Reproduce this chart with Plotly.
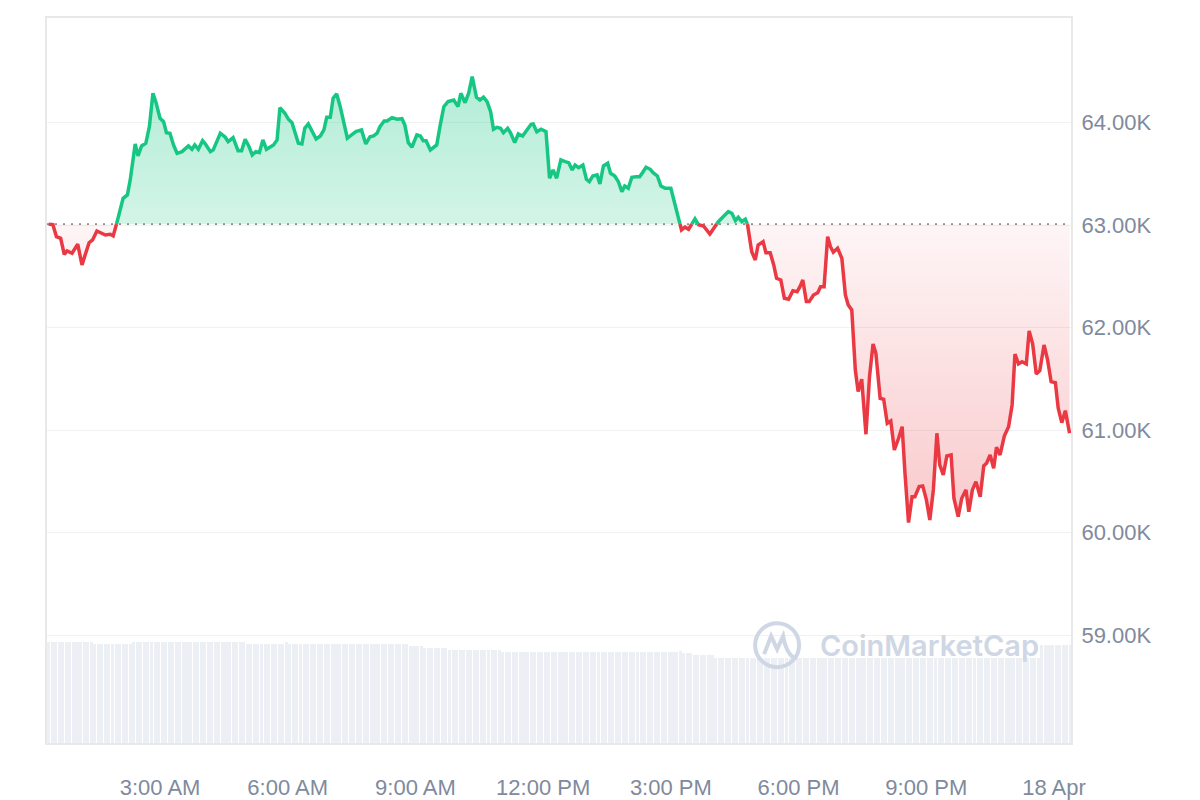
import numpy as np
import pandas as pd
import plotly.graph_objects as go

GREEN = '#16c784'
RED = '#ea3943'
TEXT = '#808a9d'
GRID = '#f0f1f3'
BORDER = '#e6e8ea'
VOL_COLOR = '#eceff3'
MARK = '#cfd6e4'
FONT = 'Liberation Sans, Arial, sans-serif'

DAY = pd.Timestamp('2024-04-17')
BASE = 63010  # opening price, the dotted reference line

# minutes after midnight on 17 Apr
minutes = [
    23, 29, 34, 40, 45, 49, 56, 64, 70, 80, 85, 91, 103, 110, 114, 119, 128, 134, 138, 145,
    149, 154, 160, 165, 170, 174, 180, 185, 189, 194, 199, 204, 211, 220, 225, 229, 234, 240, 244, 251,
    255, 265, 272, 276, 283, 290, 295, 300, 305, 310, 315, 320, 325, 330, 340, 345, 349, 356, 361, 366,
    370, 375, 380, 384, 389, 394, 400, 406, 411, 415, 420, 424, 429, 434, 438, 444, 450, 456, 464, 470,
    476, 481, 486, 490, 496, 500, 507, 514, 521, 525, 530, 535, 542, 547, 551, 555, 561, 570, 575, 580,
    586, 594, 600, 604, 610, 615, 620, 626, 631, 636, 641, 646, 650, 655, 660, 664, 670, 674, 680, 685,
    691, 697, 703, 706, 711, 717, 724, 729, 734, 739, 745, 751, 756, 761, 765, 770, 776, 781, 785, 790,
    796, 800, 805, 811, 815, 821, 826, 831, 835, 840, 845, 851, 856, 860, 865, 871, 875, 881, 886, 892,
    900, 915, 920, 925, 934, 939, 946, 955, 962, 967, 973, 981, 986, 991, 995, 1000, 1005, 1008, 1014, 1019,
    1023, 1030, 1034, 1040, 1045, 1049, 1055, 1060, 1066, 1072, 1078, 1082, 1086, 1091, 1095, 1101, 1107, 1111, 1116, 1121,
    1125, 1129, 1135, 1141, 1146, 1150, 1155, 1160, 1164, 1169, 1175, 1180, 1185, 1189, 1195, 1200, 1205, 1210, 1215, 1221,
    1226, 1230, 1235, 1240, 1244, 1250, 1255, 1260, 1265, 1270, 1275, 1279, 1284, 1289, 1295, 1299, 1305, 1310, 1316, 1320,
    1325, 1330, 1336, 1341, 1345, 1350, 1355, 1359, 1364, 1370, 1376, 1381, 1385, 1390, 1395, 1401, 1405, 1410, 1415, 1420,
    1426, 1431, 1436, 1442, 1446, 1451, 1456, 1462,
]

prices = [
    63010, 63005, 62888, 62872, 62716, 62748, 62726, 62814, 62612, 62829, 62856, 62943, 62904, 62911, 62895, 63019, 63262, 63295, 63441, 63792,
    63675, 63773, 63799, 63961, 64287, 64205, 64043, 64010, 63902, 63897, 63782, 63701, 63717, 63773, 63740, 63782, 63740, 63824, 63792, 63717,
    63734, 63897, 63858, 63815, 63854, 63727, 63727, 63838, 63773, 63685, 63717, 63707, 63831, 63740, 63782, 63831, 64146, 64092, 64033, 64000,
    63902, 63799, 63792, 63945, 63987, 63922, 63841, 63870, 63929, 64053, 64053, 64238, 64280, 64156, 64026, 63848, 63880, 63912, 63929, 63792,
    63863, 63870, 63897, 63961, 64017, 64017, 64049, 64033, 64039, 63978, 63805, 63760, 63880, 63870, 63824, 63824, 63734, 63782, 63978, 64156,
    64205, 64221, 64156, 64287, 64195, 64287, 64449, 64248, 64221, 64248, 64205, 64107, 63936, 63955, 63945, 63902, 63945, 63902, 63805, 63890,
    63870, 63929, 63984, 63987, 63912, 63936, 63912, 63458, 63539, 63458, 63636, 63620, 63610, 63539, 63587, 63561, 63587, 63448, 63424, 63480,
    63490, 63402, 63578, 63604, 63506, 63480, 63424, 63327, 63382, 63360, 63467, 63473, 63473, 63512, 63565, 63545, 63512, 63480, 63382, 63360,
    63360, 62953, 62980, 62960, 63061, 63005, 62992, 62914, 62985, 63034, 63077, 63132, 63116, 63044, 63077, 63034, 63058, 63010, 62741, 62660,
    62807, 62839, 62732, 62732, 62612, 62482, 62465, 62287, 62277, 62361, 62351, 62400, 62465, 62254, 62254, 62319, 62341, 62400, 62400, 62888,
    62790, 62736, 62775, 62677, 62319, 62221, 62173, 61587, 61376, 61497, 60960, 61522, 61841, 61750, 61311, 61301, 61067, 61090, 60807, 60921,
    61034, 60580, 60098, 60351, 60351, 60449, 60456, 60326, 60124, 60417, 60970, 60661, 60563, 60748, 60758, 60336, 60156, 60336, 60417, 60205,
    60417, 60498, 60351, 60651, 60677, 60758, 60628, 60833, 60758, 60943, 61034, 61246, 61743, 61646, 61668, 61646, 61968, 61841, 61548, 61580,
    61831, 61685, 61473, 61463, 61214, 61073, 61190, 60970,
]

# rolling 24h volume (billion $), one bar every 5 minutes from 00:23
VOL_START = '2024-04-17 00:23:00'
volume_b = [
    30.3, 30.3, 30.3, 30.3, 30.3, 30.3, 30.3, 30.3, 30.3, 30.3, 30.3, 30.3,
    30.3, 29.7, 29.7, 29.7, 29.7, 29.7, 29.7, 29.7, 29.7, 29.7, 29.7, 29.7,
    30.3, 30.3, 30.3, 30.3, 30.3, 30.3, 30.3, 30.3, 30.3, 30.3, 30.3, 30.3,
    30.3, 30.3, 30.3, 30.3, 30.3, 30.3, 30.3, 30.3, 30.3, 30.3, 30.3, 30.3,
    30.3, 30.3, 30.3, 30.3, 30.3, 30.3, 30.3, 30.3, 29.7, 29.7, 29.7, 29.7,
    29.7, 29.7, 29.7, 29.7, 29.7, 29.7, 29.7, 30.3, 29.7, 29.7, 29.7, 29.7,
    29.7, 29.7, 29.7, 29.7, 29.7, 29.7, 29.7, 29.7, 29.7, 29.7, 29.7, 29.7,
    29.7, 29.7, 29.7, 29.7, 29.7, 29.7, 29.7, 29.7, 29.7, 29.7, 29.7, 29.7,
    29.7, 29.7, 29.7, 29.7, 29.7, 29.7, 29.1, 29.1, 29.1, 29.1, 28.5, 28.5,
    28.5, 28.5, 28.5, 28.5, 28.5, 27.9, 27.9, 27.9, 27.9, 27.9, 27.9, 27.9,
    27.9, 27.9, 27.9, 27.9, 27.9, 27.9, 27.9, 27.9, 27.3, 27.3, 27.3, 27.3,
    27.3, 27.3, 27.3, 27.3, 27.3, 27.3, 27.3, 27.3, 27.3, 27.3, 27.3, 27.3,
    27.3, 27.3, 27.3, 27.3, 27.3, 27.3, 27.3, 27.3, 27.3, 27.3, 27.3, 27.3,
    27.3, 27.3, 27.3, 27.3, 27.3, 27.3, 27.3, 27.3, 27.3, 27.3, 27.3, 27.3,
    27.3, 27.3, 27.3, 27.3, 27.3, 27.3, 27.3, 27.3, 27.3, 27.3, 27.6, 27.0,
    27.0, 27.0, 26.4, 26.4, 26.4, 26.4, 26.4, 26.4, 25.5, 25.5, 25.5, 25.5,
    25.5, 25.5, 25.5, 25.5, 25.5, 25.5, 25.5, 25.5, 25.5, 25.5, 25.5, 25.5,
    25.5, 25.5, 25.5, 25.5, 25.5, 25.5, 25.5, 25.5, 25.5, 25.5, 25.5, 25.5,
    25.5, 25.5, 25.5, 25.5, 25.5, 25.5, 25.5, 25.5, 25.5, 25.5, 25.5, 25.5,
    25.5, 25.5, 25.5, 25.5, 25.5, 25.5, 25.5, 25.5, 25.5, 25.5, 25.5, 25.5,
    25.5, 25.5, 25.5, 25.5, 25.5, 25.5, 25.5, 25.5, 25.5, 25.5, 25.5, 25.5,
    25.5, 25.5, 25.5, 25.5, 25.5, 25.5, 25.5, 25.5, 25.5, 25.5, 25.5, 25.5,
    25.5, 25.5, 25.5, 25.5, 25.5, 25.5, 25.5, 25.5, 25.5, 25.5, 25.5, 25.5,
    25.5, 25.5, 25.5, 25.5, 29.4, 29.4, 29.4, 29.4, 29.4, 29.4, 29.4, 29.4,
    29.4,
]

x_tick_vals = ['2024-04-17 03:00', '2024-04-17 06:00', '2024-04-17 09:00', '2024-04-17 12:00',
               '2024-04-17 15:00', '2024-04-17 18:00', '2024-04-17 21:00', '2024-04-18 00:00']
x_tick_text = ['3:00 AM', '6:00 AM', '9:00 AM', '12:00 PM', '3:00 PM', '6:00 PM', '9:00 PM', '18 Apr']
y_ticks = [59000, 60000, 61000, 62000, 63000, 64000]

X_RANGE = ['2024-04-17 00:20:42', '2024-04-18 00:24:00']

# add a point wherever the price crosses the baseline so colours switch cleanly
t = np.array(minutes, float)
p = np.array(prices, float)
ts, ps = [t[0]], [p[0]]
for i in range(1, len(p)):
    a, b = p[i - 1] - BASE, p[i] - BASE
    if a * b < 0:
        f = a / (a - b)
        ts.append(t[i - 1] + f * (t[i] - t[i - 1]))
        ps.append(BASE)
    ts.append(t[i])
    ps.append(p[i])
ps = np.array(ps)
x = DAY + pd.to_timedelta(np.array(ts), unit='min')
base_line = np.full(len(ps), BASE)

up_fill = np.where(ps >= BASE, ps, BASE)
dn_fill = np.where(ps <= BASE, ps, BASE)
up_line = np.where(ps >= BASE, ps, np.nan)
dn_line = np.where(ps <= BASE, ps, np.nan)

vol_x = pd.date_range(VOL_START, periods=len(volume_b), freq='5min')

fig = go.Figure()

fig.add_trace(go.Bar(
    x=vol_x, y=volume_b, yaxis='y2',
    marker=dict(color=VOL_COLOR, line_width=0),
    width=5 * 60 * 1000 * 0.86,
    hoverinfo='skip'
))

# green area above baseline
fig.add_trace(go.Scatter(x=x, y=base_line, mode='lines', line=dict(width=0), hoverinfo='skip'))
fig.add_trace(go.Scatter(
    x=x, y=up_fill, mode='lines', line=dict(width=0), fill='tonexty',
    fillgradient=dict(type='vertical', start=BASE, stop=64450,
                      colorscale=[[0, 'rgba(22,199,132,0.19)'], [1, 'rgba(22,199,132,0.33)']]),
    hoverinfo='skip'
))
# red area below baseline
fig.add_trace(go.Scatter(x=x, y=base_line, mode='lines', line=dict(width=0), hoverinfo='skip'))
fig.add_trace(go.Scatter(
    x=x, y=dn_fill, mode='lines', line=dict(width=0), fill='tonexty',
    fillgradient=dict(type='vertical', start=60100, stop=BASE,
                      colorscale=[[0, 'rgba(234,57,67,0.27)'], [1, 'rgba(234,57,67,0.05)']]),
    hoverinfo='skip'
))

# dotted opening price line
fig.add_trace(go.Scatter(
    x=X_RANGE, y=[BASE, BASE], mode='lines',
    line=dict(color='#8f8f8f', width=1.6, dash='2px,6px'), hoverinfo='skip'
))

fig.add_trace(go.Scatter(x=x, y=up_line, mode='lines', line=dict(color=GREEN, width=3.5),
                         connectgaps=False))
fig.add_trace(go.Scatter(x=x, y=dn_line, mode='lines', line=dict(color=RED, width=3.5),
                         connectgaps=False))

fig.update_layout(
    width=1200, height=800,
    margin=dict(l=47, r=129, t=18, b=57),
    plot_bgcolor='white', paper_bgcolor='white',
    showlegend=False,
    font=dict(family=FONT, color=TEXT, size=22),
    bargap=0,
    xaxis=dict(
        type='date', range=X_RANGE, automargin=False,
        tickvals=x_tick_vals, ticktext=x_tick_text,
        showgrid=False, zeroline=False,
        showline=True, mirror=True, linecolor=BORDER, linewidth=2,
        ticks='outside', ticklen=24, tickcolor='rgba(0,0,0,0)',
        tickfont=dict(size=22, color=TEXT),
    ),
    yaxis=dict(
        side='right', range=[57948, 65021], automargin=False,
        tickvals=y_ticks, ticktext=[f'{v / 1000:.2f}K' for v in y_ticks],
        showgrid=True, gridcolor=GRID, gridwidth=1, zeroline=False,
        showline=True, mirror=True, linecolor=BORDER, linewidth=2,
        ticks='outside', ticklen=4, tickcolor='rgba(0,0,0,0)',
        tickfont=dict(size=22, color=TEXT),
    ),
    yaxis2=dict(overlaying='y', range=[0, 217.5], visible=False),
)

# watermark
fig.add_annotation(
    text='CoinMarketCap', xref='paper', yref='paper', x=0.862, y=0.1338,
    xanchor='center', yanchor='middle', showarrow=False,
    font=dict(family='Inter, Noto Sans, sans-serif', size=29, color=MARK, weight=600)
)
fig.add_shape(
    type='circle', xref='paper', yref='paper', xsizemode='pixel', ysizemode='pixel',
    xanchor=0.713, yanchor=0.135, x0=-22, x1=22, y0=-22, y1=22,
    line=dict(color=MARK, width=4)
)
fig.add_shape(
    type='path', xref='paper', yref='paper', xsizemode='pixel', ysizemode='pixel',
    xanchor=0.713, yanchor=0.135,
    path='M -13,-9 L -6,9 L 0,-4 L 6,9 Q 9,-8 17,-13',
    line=dict(color=MARK, width=4)
)

# the page's default 8px body margin would shift the whole chart
fig.write_html('out.html', config={'displayModeBar': False},
               post_script="document.body.style.margin='0';")
